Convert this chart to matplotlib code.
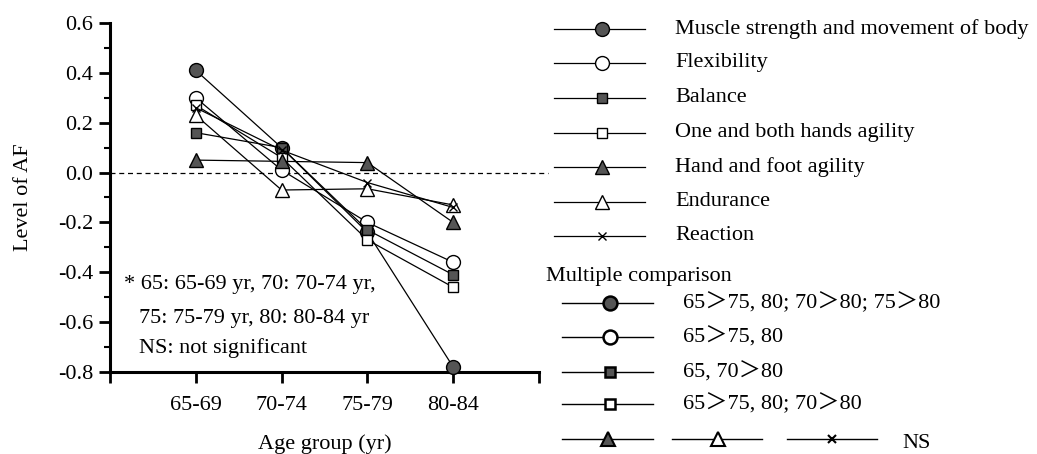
import matplotlib
matplotlib.use("Agg")
import matplotlib.pyplot as plt
import numpy as np

plt.rcParams["font.family"] = ["Liberation Serif", "Noto Sans CJK JP"]
plt.rcParams["axes.unicode_minus"] = False

# data
age_groups = ["65-69", "70-74", "75-79", "80-84"]
muscle      = [0.41, 0.10, -0.24, -0.78]
flexibility = [0.30, 0.01, -0.20, -0.36]
balance     = [0.16, 0.10, -0.23, -0.41]
hands       = [0.27, 0.06, -0.27, -0.46]
hand_foot   = [0.05, 0.045, 0.04, -0.20]
endurance   = [0.23, -0.07, -0.065, -0.13]
reaction    = [0.26, 0.09, -0.04, -0.14]

names = ["Muscle strength and movement of body", "Flexibility", "Balance",
         "One and both hands agility", "Hand and foot agility", "Endurance", "Reaction"]
comparisons = ["65＞75, 80; 70＞80; 75＞80", "65＞75, 80", "65, 70＞80", "65＞75, 80; 70＞80"]

GRAY = "#555555"
# marker styles per series: (marker, size, face)
styles = [("o", 10, GRAY), ("o", 10, "white"), ("s", 7, GRAY), ("s", 7, "white"),
          ("^", 10, GRAY), ("^", 10, "white"), ("x", 6, "black")]
series = [muscle, flexibility, balance, hands, hand_foot, endurance, reaction]

W, H = 1037, 454
fig = plt.figure(figsize=(W / 100, H / 100), dpi=100)
ax = fig.add_axes([110 / W, 1 - 372 / H, 429 / W, 349 / H])

x = np.arange(len(age_groups))
for vals, (m, ms, fc) in zip(series, styles):
    ax.plot(x, vals, color="black", lw=0.9, marker=m, ms=ms, mfc=fc,
            mec="black", mew=1.0, clip_on=False, zorder=3)

ax.axhline(0, xmin=0, xmax=1.02, color="black", lw=0.9, ls=(0, (4, 3)),
           clip_on=False, zorder=1)

ax.set_xlim(-1, 4)
ax.set_ylim(-0.8, 0.6)
ax.set_xticks(np.arange(-1, 5))
ax.set_xticklabels([""] + age_groups + [""], fontsize=16)
yt = np.round(np.arange(-0.8, 0.61, 0.2), 1)
ax.set_yticks(yt)
ax.set_yticklabels([f"{v + 0.0:.1f}" for v in yt], fontsize=16)
ax.set_yticks(np.arange(-0.7, 0.6, 0.2), minor=True)
ax.tick_params(axis="both", which="major", direction="out", length=8, width=2, pad=4)
ax.tick_params(axis="x", which="major", pad=9)
ax.tick_params(axis="y", which="minor", direction="out", length=4, width=1.5)
for s in ["top", "right"]:
    ax.spines[s].set_visible(False)
for s in ["left", "bottom"]:
    ax.spines[s].set_linewidth(2.2)

ax.set_xlabel("Age group (yr)", fontsize=16, labelpad=14)
ax.set_ylabel("Level of AF", fontsize=16, labelpad=18)

# footnote
fig.text(124 / W, 1 - 285 / H, "* 65: 65-69 yr, 70: 70-74 yr,", fontsize=16, va="center")
fig.text(139 / W, 1 - 318 / H, "75: 75-79 yr, 80: 80-84 yr", fontsize=16, va="center")
fig.text(139 / W, 1 - 348 / H, "NS: not significant", fontsize=16, va="center")

# legend drawn in a pixel-space overlay
lax = fig.add_axes([0, 0, 1, 1], facecolor="none")
lax.set_xlim(0, W)
lax.set_ylim(H, 0)
lax.axis("off")

rows_top = [29, 63, 98, 133, 167, 202, 236]
for yy, name, (m, ms, fc) in zip(rows_top, names, styles):
    lax.plot([554, 645], [yy, yy], color="black", lw=0.9)
    lax.plot([602], [yy], marker=m, ms=ms, mfc=fc, mec="black", mew=1.0, color="black")
    lax.text(675, yy, name, fontsize=16, va="center")

lax.text(546, 277, "Multiple comparison", fontsize=16, va="center")
rows_mc = [303, 337, 372, 404]
for yy, txt, (m, ms, fc) in zip(rows_mc, comparisons, styles[:4]):
    lax.plot([562, 653], [yy, yy], color="black", lw=1.0)
    lax.plot([610], [yy], marker=m, ms=ms, mfc=fc, mec="black", mew=1.8, color="black")
    lax.text(683, yy, txt, fontsize=16, va="center")

ns_segments = [(562, 653, 608), (672, 762, 718), (787, 877, 832)]
for (x0, x1, xm), (m, ms, fc) in zip(ns_segments, styles[4:]):
    lax.plot([x0, x1], [439, 439], color="black", lw=1.0)
    lax.plot([xm], [439], marker=m, ms=ms, mfc=fc, mec="black", mew=1.5, color="black")
lax.text(902, 443, "NS", fontsize=16, va="center")

fig.savefig("out.png", dpi=100)
